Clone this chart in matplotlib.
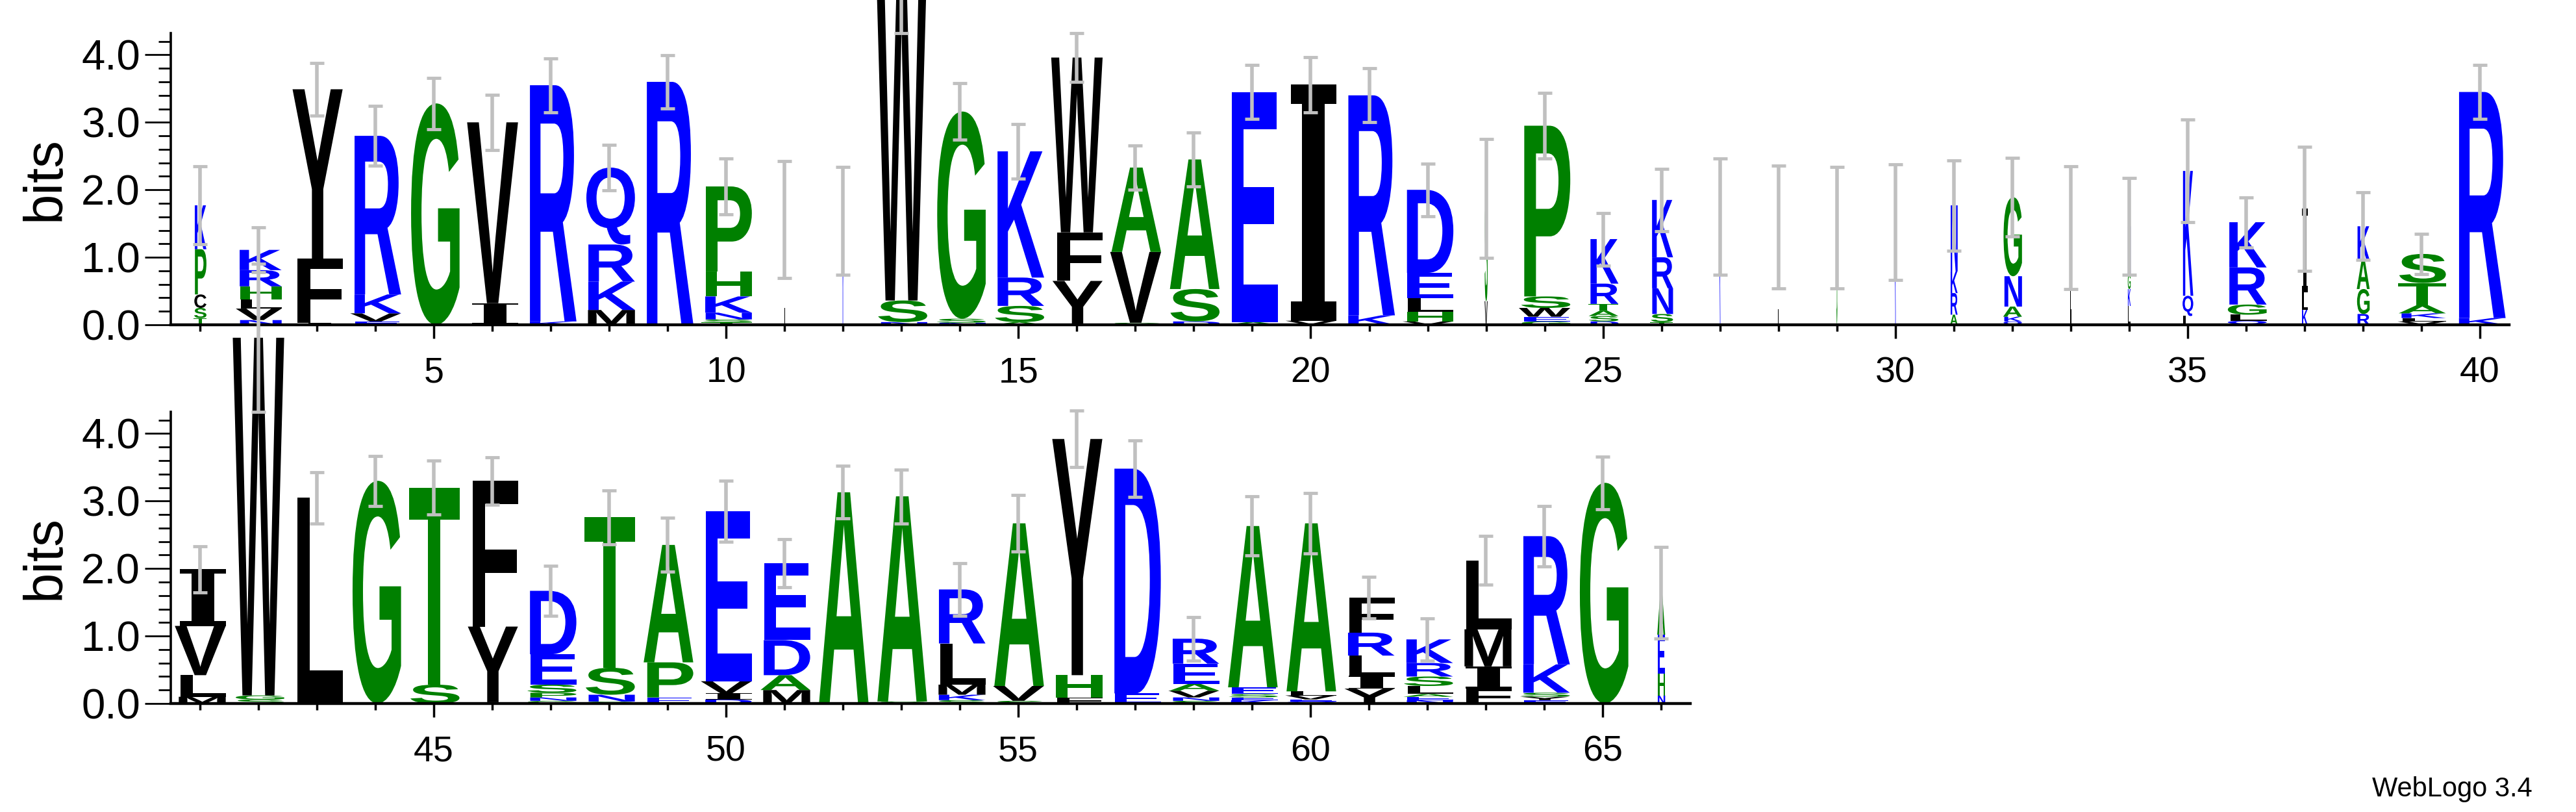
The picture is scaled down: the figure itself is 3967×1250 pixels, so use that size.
import matplotlib
matplotlib.use("Agg")
import matplotlib.pyplot as plt
from matplotlib.textpath import TextPath
from matplotlib.font_manager import FontProperties
from matplotlib.patches import PathPatch
from matplotlib.transforms import Affine2D

# ---------------- data ----------------
positions = list(range(1, 67))
stack_letters = [
    "TSCPK", "NVLHRK", "IFY", "EVKR", "G", "IV", "KR", "MKRQ", "R", "TSNKHP",
    "L", "K", "NSW", "NSG", "ASRK", "YFW", "SVA", "DSA", "AE", "VI",
    "KR", "VHLED", "VS", "GEWSP", "DSATRK", "TSNRK", "K", "L", "G", "K",
    "ARKN", "QKANG", "L", "LKGN", "LQK", "QLGRK", "KLI", "RGAK", "VLKATS", "KR",
    "MLVI", "SGW", "L", "G", "ST", "LYF", "GNPSED", "GNST", "EPA", "DIVE",
    "MADE", "A", "SA", "SKMLR", "SVA", "FHY", "ED", "SNVAER", "KESEA", "QEVLA",
    "YILRF", "NEALSRK", "FIML", "EYSKR", "G", "NHEA",
]
stack_heights = [
    [0.10, 0.15, 0.20, 0.67, 0.65], [0.07, 0.17, 0.14, 0.19, 0.24, 0.30], [0.03, 0.95, 2.51],
    [0.05, 0.12, 0.28, 2.35], [3.28], [0.32, 2.68], [0.05, 3.50], [0.22, 0.42, 0.55, 1.14],
    [3.60], [0.04, 0.04, 0.10, 0.24, 0.37, 1.26],
    [1.56], [1.54], [0.04, 0.32, 5.10], [0.03, 0.06, 3.07], [0.04, 0.24, 0.42, 1.87],
    [0.65, 0.72, 2.59], [0.03, 1.05, 1.25], [0.05, 0.48, 1.92], [0.04, 3.41], [0.06, 3.50],
    [0.14, 3.26], [0.05, 0.14, 0.20, 0.38, 1.23], [0.35, 1.52], [0.05, 0.07, 0.13, 0.17, 2.53],
    [0.05, 0.08, 0.08, 0.10, 0.30, 0.66], [0.04, 0.12, 0.38, 0.46, 0.85], [1.60], [1.45], [1.44], [1.52],
    [0.15, 0.32, 0.32, 0.98], [0.05, 0.07, 0.15, 0.45, 1.17], [1.44], [0.28, 0.25, 0.22, 0.71],
    [0.13, 0.30, 1.85], [0.06, 0.09, 0.15, 0.55, 0.67], [0.22, 0.26, 1.24], [0.16, 0.37, 0.43, 0.50],
    [0.05, 0.05, 0.07, 0.12, 0.33, 0.43], [0.10, 3.35],
    [0.10, 0.32, 0.73, 0.84], [0.06, 0.06, 5.30], [3.05], [3.30], [0.28, 2.92], [0.02, 1.12, 2.16],
    [0.04, 0.05, 0.07, 0.12, 0.45, 0.94], [0.03, 0.10, 0.40, 2.23], [0.09, 0.52, 1.74],
    [0.06, 0.09, 0.18, 2.52], [0.20, 0.22, 0.52, 1.14], [3.13], [0.03, 3.04],
    [0.05, 0.08, 0.15, 0.61, 0.80], [0.04, 0.22, 2.41], [0.09, 0.33, 3.50], [0.15, 3.33],
    [0.04, 0.05, 0.10, 0.10, 0.30, 0.37], [0.05, 0.04, 0.05, 0.10, 2.39], [0.03, 0.03, 0.06, 0.06, 2.49],
    [0.22, 0.19, 0.30, 0.34, 0.52], [0.05, 0.05, 0.04, 0.12, 0.14, 0.20, 0.35], [0.22, 0.33, 0.55, 1.02],
    [0.05, 0.05, 0.06, 0.42, 1.90], [3.27], [0.12, 0.32, 0.58, 0.62],
]
stack_widths = [
    0.25, 0.9, 1, 1, 1, 1, 1, 1, 1, 1,
    0.02, 0.02, 1, 1, 1, 1, 1, 1, 1, 1,
    1, 1, 0.06, 1, 0.6, 0.45, 0.02, 0.02, 0.02, 0.02,
    0.15, 0.38, 0.02, 0.06, 0.22, 0.8, 0.12, 0.26, 0.95, 1,
    1, 1, 1, 1, 1, 1, 1, 1, 1, 1,
    1, 1, 1, 1, 1, 1, 1, 1, 1, 1,
    1, 1, 1, 1, 1, 0.16,
]
error_half = [
    0.58, 0.33, 0.39, 0.44, 0.38, 0.41, 0.40, 0.34, 0.39, 0.41,
    0.87, 0.80, 1.14, 0.42, 0.40, 0.36, 0.33, 0.40, 0.40, 0.41,
    0.40, 0.39, 0.88, 0.49, 0.39, 0.46, 0.86, 0.91, 0.90, 0.86,
    0.67, 0.58, 0.91, 0.72, 0.76, 0.37, 0.92, 0.50, 0.30, 0.40,
    0.34, 1.10, 0.38, 0.37, 0.40, 0.35, 0.37, 0.40, 0.40, 0.45,
    0.36, 0.39, 0.40, 0.39, 0.42, 0.42, 0.42, 0.32, 0.44, 0.45,
    0.31, 0.31, 0.36, 0.45, 0.39, 0.68,
]
row_ranges = [(1, 40), (41, 66)]

BLUE, GREEN, BLACK = "#0000ff", "#008000", "#000000"
def letter_color(ch):
    if ch in "KRDENQ":
        return BLUE
    if ch in "GSTAPH":
        return GREEN
    return BLACK

fp_main = FontProperties(family="Liberation Sans", weight="bold")
fp_serif = FontProperties(family="DejaVu Serif", weight="bold")

def draw_letter(ax, ch, xc, base, w, h):
    tp = TextPath((0, 0), ch, size=1, prop=fp_serif if ch == "I" else fp_main)
    v = tp.vertices
    x0, y0 = v[:, 0].min(), v[:, 1].min()
    x1, y1 = v[:, 0].max(), v[:, 1].max()
    tr = Affine2D().translate(-x0, -y0).scale(w / (x1 - x0), h / (y1 - y0)).translate(xc - w / 2, base)
    ax.add_patch(PathPatch(tr.transform_path(tp), facecolor=letter_color(ch), edgecolor="none",
                           lw=0, clip_on=False, zorder=2))

W, H = 3967, 1250
fig = plt.figure(figsize=(W / 100, H / 100), dpi=100)
ymax = 4.3219
axes_px = [(263, 51, 3864, 500), (263, 634, 2603, 1083)]
for (pstart, pend), (l, t, r, b) in zip(row_ranges, axes_px):
    ax = fig.add_axes([l / W, 1 - b / H, (r - l) / W, (b - t) / H])
    ax.set_xlim(pstart - 0.5, pend + 0.5)
    ax.set_ylim(0, ymax)
    for p in range(pstart, pend + 1):
        i = p - 1
        base = 0.0
        wfull = 0.88 * stack_widths[i]
        for ch, h in zip(stack_letters[i], stack_heights[i]):
            draw_letter(ax, ch, p, base, wfull, h)
            base += h
        ax.errorbar([p], [base], yerr=[error_half[i]], fmt="none", ecolor="#c0c0c0",
                    elinewidth=4, capsize=8, capthick=3.5, zorder=3, clip_on=False)
    for s in ("top", "right"):
        ax.spines[s].set_visible(False)
    ax.spines["bottom"].set_linewidth(3.2)
    ax.spines["left"].set_linewidth(2.6)
    majors = [p for p in range(pstart, pend + 1) if p % 5 == 0]
    ax.set_xticks(majors)
    ax.set_xticklabels([str(m) for m in majors])
    ax.set_xticks(list(range(pstart, pend + 1)), minor=True)
    ax.set_yticks([0, 1, 2, 3, 4])
    ax.set_yticklabels(["0.0", "1.0", "2.0", "3.0", "4.0"])
    ax.set_yticks([k * 0.2 for k in range(22)], minor=True)
    ax.tick_params(axis="x", which="major", length=15, width=2.5, labelsize=40, pad=20)
    ax.tick_params(axis="x", which="minor", length=7, width=2.5)
    ax.tick_params(axis="y", which="major", length=29, width=2, labelsize=47, pad=5)
    ax.tick_params(axis="y", which="minor", length=14, width=2)
    for lab in ax.get_xticklabels() + ax.get_yticklabels():
        lab.set_family("Liberation Sans")
    fig.text(70 / W, 1 - (t + b) / 2 / H, "bits", rotation=90, ha="center", va="center",
             fontsize=60, family="Liberation Sans")

fig.text(3900 / W, 1 - 1215 / H, "WebLogo 3.4", ha="right", va="center", fontsize=30,
         family="Liberation Sans")
fig.savefig("out.png", dpi=100)
